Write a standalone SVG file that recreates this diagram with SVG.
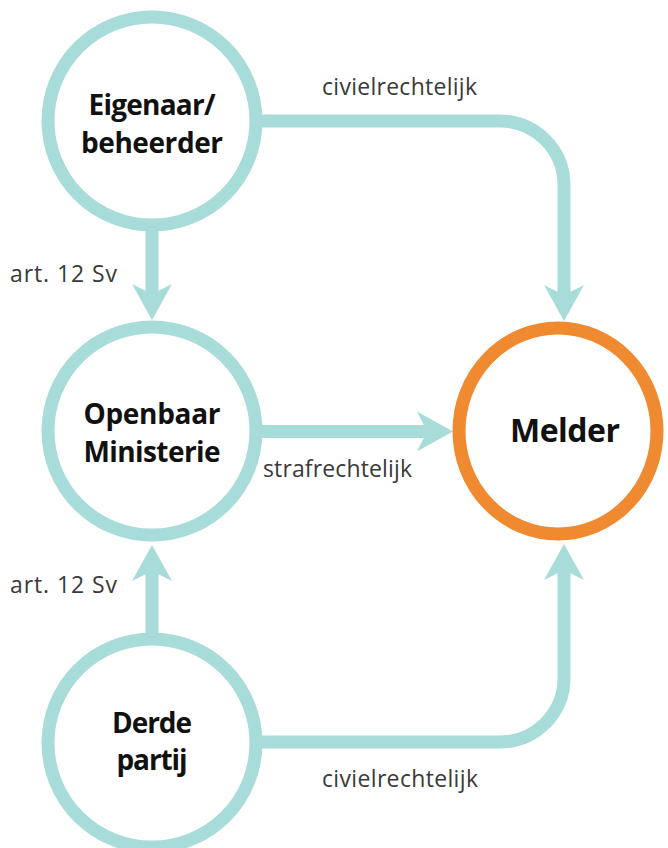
<svg xmlns="http://www.w3.org/2000/svg" width="668" height="848" viewBox="0 0 668 848">
  <style>
    .conn { fill: none; stroke: #a8dcd9; stroke-width: 13; stroke-linecap: butt; }
    .node { fill: #ffffff; stroke: #a8dcd9; stroke-width: 13; }
    .melder { fill: #ffffff; stroke: #f08a30; stroke-width: 13; }
    .nlabel { font-family: "Open Sans", "DejaVu Sans", sans-serif; font-weight: bold; font-size: 28px; fill: #111111; text-anchor: middle; }
    .mlabel { font-size: 32px; }
    .elabel { font-family: "Open Sans", "DejaVu Sans", sans-serif; font-size: 23px; fill: #3a3a3a; }
  </style>
  <defs>
    <marker id="arrow" markerUnits="userSpaceOnUse" markerWidth="40" markerHeight="44" viewBox="-14 -22 40 44" refX="0" refY="0" orient="auto" overflow="visible">
      <path d="M24,0 L-12,-20 L-2,0 L-12,20 Z" fill="#a8dcd9"/>
    </marker>
  </defs>
  <rect width="668" height="848" fill="#ffffff"/>
  <g id="connectors">
    <path class="conn" d="M152,121 H500 A64,64 0 0 1 564,185 V297" marker-end="url(#arrow)"/>
    <path class="conn" d="M152,121 V296" marker-end="url(#arrow)"/>
    <path class="conn" d="M152,431.5 H429" marker-end="url(#arrow)"/>
    <path class="conn" d="M152,743 V569" marker-end="url(#arrow)"/>
    <path class="conn" d="M152,742 H500 A64,64 0 0 0 564,678 V568" marker-end="url(#arrow)"/>
  </g>
  <g id="node-eigenaar">
    <circle class="node" cx="152" cy="121" r="104"/>
    <text class="nlabel" x="152" y="115" textLength="127">Eigenaar/</text>
    <text class="nlabel" x="152" y="153" textLength="142">beheerder</text>
  </g>
  <g id="node-om">
    <circle class="node" cx="152" cy="431" r="104"/>
    <text class="nlabel" x="152" y="424" textLength="137">Openbaar</text>
    <text class="nlabel" x="152" y="462" textLength="137">Ministerie</text>
  </g>
  <g id="node-derde">
    <circle class="node" cx="152" cy="743" r="104"/>
    <text class="nlabel" x="152" y="733" textLength="80">Derde</text>
    <text class="nlabel" x="152" y="770" textLength="71">partij</text>
  </g>
  <g id="node-melder">
    <ellipse class="melder" cx="558" cy="431" rx="99" ry="103"/>
    <text class="nlabel mlabel" x="565" y="442" textLength="110">Melder</text>
  </g>
  <g id="edge-labels">
    <text class="elabel" x="322" y="95" textLength="155">civielrechtelijk</text>
    <text class="elabel" x="10" y="282" textLength="107">art. 12 Sv</text>
    <text class="elabel" x="263" y="477" textLength="149">strafrechtelijk</text>
    <text class="elabel" x="10" y="593" textLength="107">art. 12 Sv</text>
    <text class="elabel" x="322" y="787" textLength="156">civielrechtelijk</text>
  </g>
</svg>
